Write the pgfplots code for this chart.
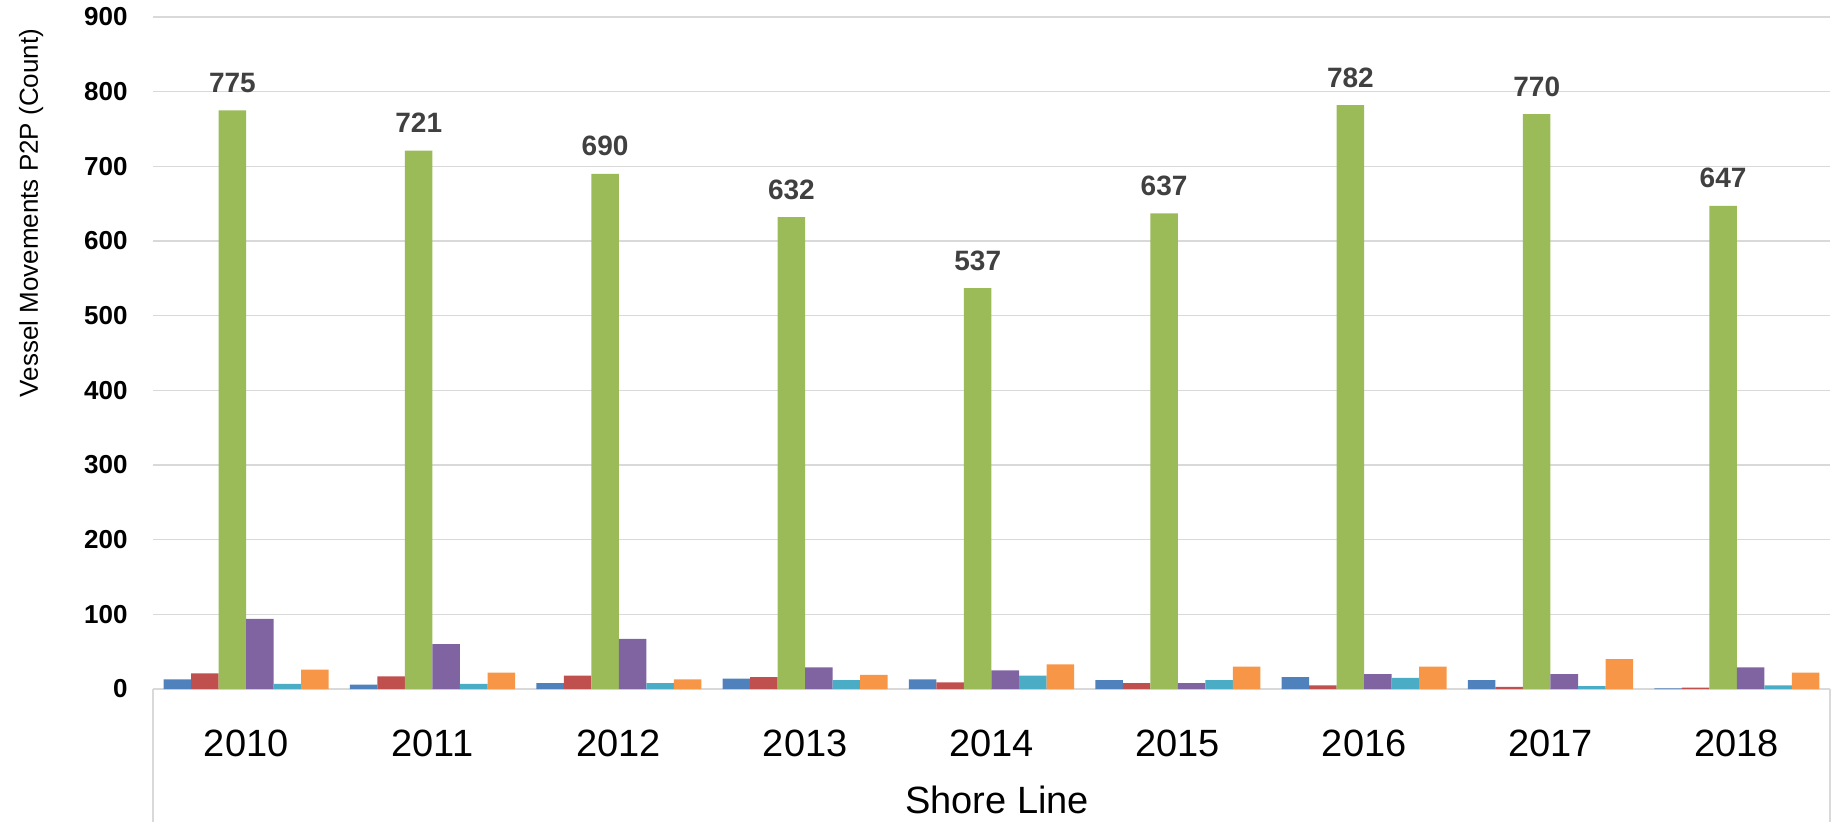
\documentclass[border=0pt]{standalone}
\usepackage{fontspec}
\setmainfont{Liberation Sans}
\usepackage{pgfplots}
\pgfplotsset{compat=1.18}
\usepackage{pgfplotstable}

\definecolor{sBlue}{HTML}{4F81BD}
\definecolor{sRed}{HTML}{C0504D}
\definecolor{sGreen}{HTML}{9BBB59}
\definecolor{sPurple}{HTML}{8064A2}
\definecolor{sCyan}{HTML}{4BACC6}
\definecolor{sOrange}{HTML}{F79646}
\definecolor{gridgray}{HTML}{D9D9D9}
\definecolor{labelgray}{HTML}{404040}

% Vessel movements per year, one column per series
\pgfplotstableread{
x blue red green purple cyan orange
0 13 21 775 94 7 26
1 6 17 721 60 7 22
2 8 18 690 67 8 13
3 14 16 632 29 12 19
4 13 9 537 25 18 33
5 12 8 637 8 12 30
6 16 5 782 20 15 30
7 12 3 770 20 4 40
8 1 2 647 29 5 22
}\movements

\begin{document}
\begin{tikzpicture}
\begin{axis}[
  at={(0,0)}, anchor=south west,
  scale only axis, width=838.5pt, height=336pt,
  xmin=-0.5, xmax=8.5, ymin=0, ymax=900,
  ybar=0pt, bar width=13.75pt,
  xtick={0,...,8},
  xticklabels={2010,2011,2012,2013,2014,2015,2016,2017,2018},
  ytick={0,100,...,900},
  axis line style={draw=none},
  major tick style={draw=none},
  ymajorgrids,
  major grid style={gridgray, line width=0.8pt},
  /pgf/number format/assume math mode=true,
  xticklabel style={font=\fontsize{19}{19}\selectfont, anchor=base, yshift=-29.5pt},
  yticklabel style={font=\bfseries\fontsize{13}{13}\selectfont, anchor=east, inner sep=0pt, xshift=-12.5pt},
  xlabel={Shore Line},
  xlabel style={at={(axis description cs:0.5,0)}, anchor=base, yshift=-62pt, xshift=2.75pt, font=\fontsize{19}{19}\selectfont},
  clip=false,
]
\addplot[fill=sBlue, draw=none] table[x=x, y=blue] {\movements};
\addplot[fill=sRed, draw=none] table[x=x, y=red] {\movements};
\addplot[fill=sGreen, draw=none, nodes near coords,
  every node near coord/.append style={anchor=base, yshift=9pt, text=labelgray, font=\bfseries\fontsize{14}{14}\selectfont}]
  table[x=x, y=green] {\movements};
\addplot[fill=sPurple, draw=none] table[x=x, y=purple] {\movements};
\addplot[fill=sCyan, draw=none] table[x=x, y=cyan] {\movements};
\addplot[fill=sOrange, draw=none] table[x=x, y=orange] {\movements};
\end{axis}
% frame of the category label area
\draw[gridgray, line width=0.8pt] (0,0) -- (0,-80pt);
\draw[gridgray, line width=0.8pt] (838.5pt,0) -- (838.5pt,-80pt);
\node[rotate=90, anchor=base, font=\fontsize{13}{13}\selectfont] at (-57.5pt,238pt) {Vessel Movements P2P (Count)};
\pgfresetboundingbox
\path[use as bounding box] (-76.5pt,-66pt) rectangle (844.5pt,344.5pt);
\end{tikzpicture}
\end{document}
